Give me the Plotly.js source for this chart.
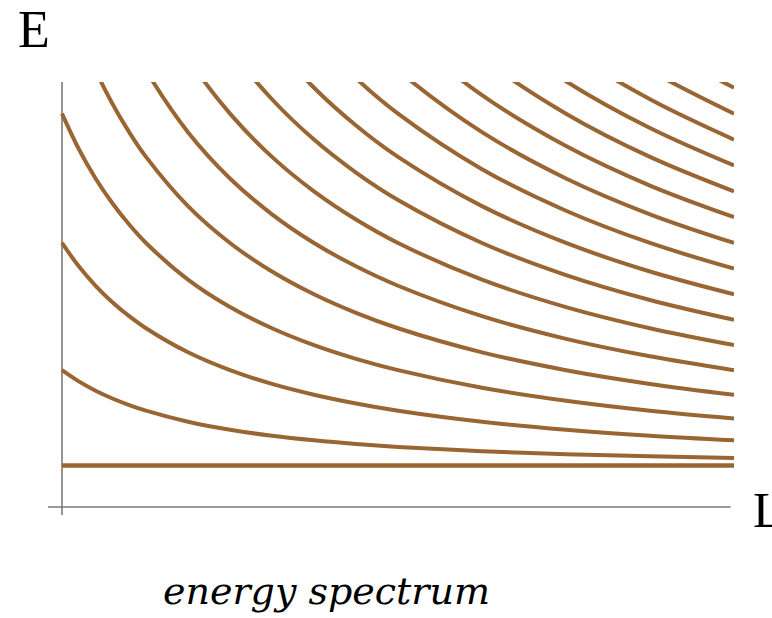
<!DOCTYPE html>
<html>
<head>
<meta charset="utf-8">
<script src="https://cdn.plot.ly/plotly-3.0.1.min.js"></script>
<style>html,body{margin:0;padding:0;background:#fff;}#chart{width:772px;height:618px;}</style>
</head>
<body>
<div id="chart"></div>
<script>
// L values (x) at which the energy levels were read
const lengthL = [1, 1.1, 1.2, 1.3, 1.4, 1.5, 1.75, 2, 2.25, 2.5, 2.75, 3, 3.5, 4, 4.5, 5];
// Energy levels (one array per level)
const level0  = [1, 1, 1, 1, 1, 1, 1, 1, 1, 1, 1, 1, 1, 1, 1, 1];
const level1  = [3.297, 3.026, 2.802, 2.615, 2.457, 2.321, 2.055, 1.862, 1.717, 1.606, 1.518, 1.448, 1.344, 1.272, 1.220, 1.181];
const level2  = [6.362, 5.799, 5.331, 4.936, 4.598, 4.307, 3.727, 3.297, 2.966, 2.705, 2.494, 2.321, 2.055, 1.862, 1.717, 1.606];
const level3  = [9.478, 8.626, 7.917, 7.318, 6.806, 6.362, 5.478, 4.817, 4.307, 3.900, 3.570, 3.297, 2.872, 2.560, 2.321, 2.134];
const level4  = [12.606, 11.468, 10.520, 9.718, 9.032, 8.437, 7.250, 6.362, 5.674, 5.125, 4.678, 4.307, 3.727, 3.297, 2.966, 2.705];
const level5  = [15.740, 14.315, 13.128, 12.124, 11.264, 10.520, 9.032, 7.917, 7.053, 6.362, 5.799, 5.331, 4.598, 4.052, 3.631, 3.297];
const level6  = [18.876, 17.165, 15.740, 14.534, 13.501, 12.606, 10.818, 9.478, 8.437, 7.606, 6.927, 6.362, 5.478, 4.817, 4.307, 3.900];
const level7  = [22.014, 20.017, 18.353, 16.946, 15.740, 14.695, 12.606, 11.041, 9.825, 8.853, 8.059, 7.398, 6.362, 5.588, 4.988, 4.510];
const level8  = [25.153, 22.870, 20.968, 19.359, 17.980, 16.785, 14.397, 12.606, 11.215, 10.103, 9.194, 8.437, 7.250, 6.362, 5.674, 5.125];
const level9  = [28.292, 25.723, 23.583, 21.772, 20.221, 18.876, 16.188, 14.172, 12.606, 11.354, 10.330, 9.478, 8.140, 7.139, 6.362, 5.743];
const level10 = [31.432, 28.578, 26.199, 24.187, 22.462, 20.968, 17.980, 15.740, 13.999, 12.606, 11.468, 10.520, 9.032, 7.917, 7.053, 6.362];
const level11 = [34.573, 31.432, 28.815, 26.602, 24.704, 23.060, 19.772, 17.308, 15.392, 13.859, 12.606, 11.562, 9.924, 8.697, 7.744, 6.983];
const level12 = [37.712, 34.287, 31.432, 29.016, 26.947, 25.153, 21.565, 18.876, 16.785, 15.113, 13.745, 12.606, 10.818, 9.478, 8.437, 7.606];
const level13 = [40.853, 37.141, 34.049, 31.432, 29.189, 27.245, 23.359, 20.444, 18.180, 16.367, 14.885, 13.651, 11.712, 10.259, 9.131, 8.229];
const level14 = [43.993, 39.996, 36.666, 33.847, 31.432, 29.339, 25.153, 22.014, 19.574, 17.621, 16.025, 14.695, 12.606, 11.041, 9.825, 8.853];
const level15 = [47.135, 42.852, 39.283, 36.263, 33.675, 31.432, 26.947, 23.583, 20.968, 18.876, 17.165, 15.740, 13.501, 11.823, 10.520, 9.478];
const level16 = [50.275, 45.707, 41.900, 38.679, 35.918, 33.525, 28.740, 25.153, 22.362, 20.131, 18.305, 16.785, 14.397, 12.606, 11.215, 10.103];

const levels = [level0, level1, level2, level3, level4, level5, level6, level7, level8,
                level9, level10, level11, level12, level13, level14, level15, level16];

const lineColor = '#996633';
const traces = levels.map((ys, i) => ({
  x: lengthL, y: ys, type: 'scatter', mode: 'lines',
  line: {color: lineColor, width: i === 0 ? 4.3 : 4, shape: 'spline', smoothing: 1},
  hoverinfo: 'skip', showlegend: false, cliponaxis: true
}));

const xMin = 0.9167, xMax = 5.0, yMin = -0.193, yMax = 10.241;
const axisColor = '#7a7a7a';

const layout = {
  width: 772, height: 618,
  margin: {l: 48, r: 38, t: 82, b: 103, pad: 0},
  paper_bgcolor: '#ffffff', plot_bgcolor: '#ffffff',
  showlegend: false,
  xaxis: {range: [xMin, xMax], showgrid: false, zeroline: false, showline: false, showticklabels: false, ticks: '', fixedrange: true},
  yaxis: {range: [yMin, yMax], showgrid: false, zeroline: false, showline: false, showticklabels: false, ticks: '', fixedrange: true},
  shapes: [
    {type: 'line', xref: 'x', yref: 'y', x0: 1, x1: 1, y0: yMin, y1: yMax, line: {color: axisColor, width: 1.6}, layer: 'below'},
    {type: 'line', xref: 'x', yref: 'y', x0: xMin, x1: 4.98, y0: 0, y1: 0, line: {color: axisColor, width: 1.6}, layer: 'below'}
  ],
  annotations: [
    {text: 'E', xref: 'paper', yref: 'paper', x: (16 - 48) / 686, y: (515 - 29) / 433, xanchor: 'left', yanchor: 'middle',
     showarrow: false, font: {family: 'Liberation Serif, serif', size: 52, color: '#000'}},
    {text: 'L', xref: 'paper', yref: 'paper', x: (751 - 48) / 686, y: (515 - 510) / 433, xanchor: 'left', yanchor: 'middle',
     showarrow: false, font: {family: 'Liberation Serif, serif', size: 50, color: '#000'}},
    {text: '<i>energy spectrum</i>', xref: 'paper', yref: 'paper', x: (326 - 48) / 686, y: (515 - 591) / 433, xanchor: 'center', yanchor: 'middle',
     showarrow: false, font: {family: 'DejaVu Serif, serif', size: 38, color: '#000'}}
  ]
};

Plotly.newPlot('chart', traces, layout, {staticPlot: true, displayModeBar: false});
</script>
</body>
</html>
